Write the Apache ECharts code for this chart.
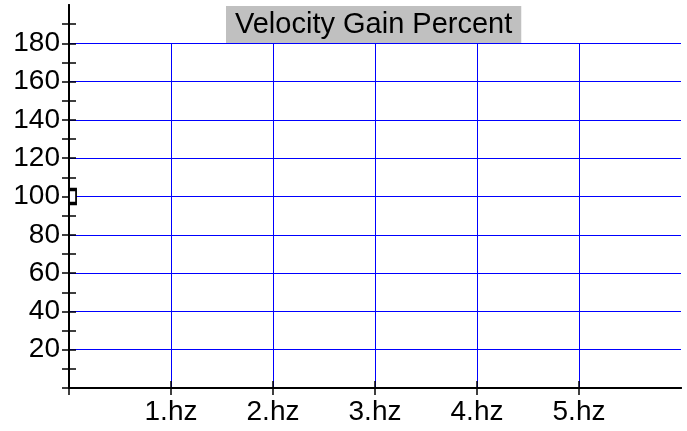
<!DOCTYPE html>
<html>
<head>
<meta charset="utf-8">
<script src="https://cdn.jsdelivr.net/npm/echarts@6/dist/echarts.min.js"></script>
<style>
  html, body { margin: 0; padding: 0; background: #fff; }
  #chart { width: 687px; height: 431px; }
</style>
</head>
<body>
<div id="chart"></div>
<script>
// axis values
const xLabels = ["1.hz", "2.hz", "3.hz", "4.hz", "5.hz"];
const xLabelValues = [1, 2, 3, 4, 5];
const xTickValues = [0, 1, 2, 3, 4, 5];
const xMax = 6;
const yLabelValues = [20, 40, 60, 80, 100, 120, 140, 160, 180];
const yTickValues = [0, 10, 20, 30, 40, 50, 60, 70, 80, 90, 100, 110, 120, 130, 140, 150, 160, 170, 180, 190];
const yMax = 200;
const gridTopValue = 180;

// the single data point
const pointX = [0.035];
const pointY = [100];

const font = "'Liberation Sans', Arial, sans-serif";
const blue = "#0000ff";

let myChart = echarts.init(document.getElementById("chart"));

function yAxisOf(inside) {
  return {
    type: "value",
    position: "left",
    min: 0,
    max: yMax,
    interval: 10,
    z: 5,
    axisLine: { show: true, lineStyle: { color: "#000", width: 2 } },
    axisTick: {
      show: true,
      inside: inside,
      length: 7,
      customValues: yTickValues,
      lineStyle: { color: "#000", width: 1.5 },
    },
    axisLabel: {
      show: !inside,
      customValues: yLabelValues,
      color: "#000",
      fontSize: 28,
      fontFamily: font,
      margin: 9,
    },
    splitLine: { show: false },
  };
}

function xAxisOf(inside) {
  return {
    type: "value",
    position: "bottom",
    min: 0,
    max: xMax,
    interval: 1,
    z: 5,
    axisLine: { show: true, lineStyle: { color: "#000", width: 2 } },
    axisTick: {
      show: true,
      inside: inside,
      length: 7,
      customValues: xTickValues,
      lineStyle: { color: "#000", width: 1.5 },
    },
    axisLabel: {
      show: !inside,
      customValues: xLabelValues,
      formatter: function (v) {
        return xLabels[xLabelValues.indexOf(v)];
      },
      color: "#000",
      fontSize: 28,
      fontFamily: font,
      margin: 10,
    },
    splitLine: { show: false },
  };
}

// grid lines: horizontal at each labelled y, vertical at each labelled x up to 180
function gridStyle() {
  return { color: blue, width: 1, type: "solid", opacity: 1 };
}
const gridLines = []
  .concat(
    yLabelValues.map((v) => [
      { coord: [0, v], lineStyle: gridStyle() },
      { coord: [xMax, v], lineStyle: gridStyle() },
    ])
  )
  .concat(
    xLabelValues.map((v) => [
      { coord: [v, 0], lineStyle: gridStyle() },
      { coord: [v, gridTopValue], lineStyle: gridStyle() },
    ])
  );

myChart.setOption({
  animation: false,
  color: [blue],
  title: {
    text: "Velocity Gain Percent",
    left: 226,
    top: 6,
    padding: [4, 9, 4, 9],
    backgroundColor: "#c0c0c0",
    textStyle: {
      color: "#000",
      fontSize: 29,
      fontWeight: "normal",
      fontFamily: font,
    },
  },
  grid: {
    left: 69,
    right: 6,
    top: 5,
    bottom: 43,
    containLabel: false,
  },
  xAxis: [xAxisOf(false), xAxisOf(true)],
  yAxis: [yAxisOf(false), yAxisOf(true)],
  series: [
    {
      type: "line",
      xAxisIndex: 0,
      yAxisIndex: 0,
      data: [],
      z: 1,
      itemStyle: { color: blue },
      lineStyle: { color: blue },
      markLine: {
        silent: true,
        symbol: "none",
        label: { show: false },
        emphasis: { disabled: true },
        lineStyle: gridStyle(),
        data: gridLines,
      },
    },
    {
      type: "scatter",
      xAxisIndex: 0,
      yAxisIndex: 0,
      data: pointX.map((x, i) => [x, pointY[i]]),
      symbol: "rect",
      symbolSize: [7, 14],
      itemStyle: { color: "#fff", borderColor: "#000", borderWidth: 2.5, opacity: 1 },
      z: 6,
    },
  ],
});
</script>
</body>
</html>
